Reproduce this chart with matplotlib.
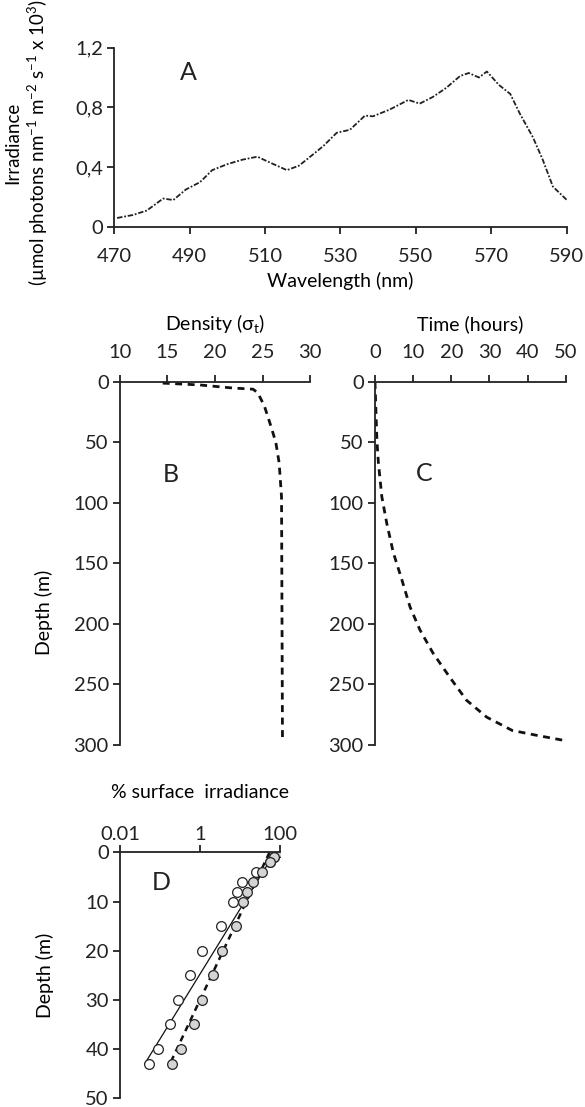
import numpy as np
import matplotlib
matplotlib.use("Agg")
import matplotlib.pyplot as plt
from matplotlib.ticker import FixedLocator, NullLocator

plt.rcParams['font.family'] = ['Lato', 'DejaVu Sans']
plt.rcParams['mathtext.fontset'] = 'custom'
plt.rcParams['mathtext.rm'] = 'Lato'
plt.rcParams['mathtext.it'] = 'Lato:italic'
plt.rcParams['text.color'] = '#222'

# --- A: irradiance spectrum
wavelength = [470.8, 475, 478.7, 483, 485.7, 489, 492.8, 496, 500, 504, 508, 510.5,
              515.8, 519, 521, 525.4, 529, 532.5, 536.5, 538.6, 543, 548, 551, 554.5,
              558, 561.7, 564, 566.7, 568.8, 572, 575, 577.5, 581, 583.6, 586.3, 590]
irradiance = [0.06, 0.08, 0.11, 0.19, 0.18, 0.25, 0.30, 0.38, 0.42, 0.45, 0.47, 0.44,
              0.38, 0.41, 0.45, 0.54, 0.63, 0.65, 0.745, 0.74, 0.785, 0.85, 0.825, 0.87,
              0.93, 1.01, 1.03, 1.00, 1.04, 0.95, 0.89, 0.76, 0.60, 0.45, 0.27, 0.18]

# --- B: density profile
density = [14.5, 18.4, 21.8, 24.0, 24.5, 25.2, 25.9, 26.4, 26.75, 27.0, 27.1]
density_depth = [1, 2.5, 5, 6, 9, 20, 37, 50, 67, 95, 296]

# --- C: time vs depth
time_h = [0, 0.5, 0.9, 1.8, 3.1, 4.8, 7.0, 9.2, 11.8, 15.2, 19.6, 24.0, 29.3, 36.0, 42.4, 49.2]
time_depth = [0, 48, 67, 95, 117, 141, 163, 186, 205, 224, 244, 263, 277, 288, 292, 296]

# --- D: % surface irradiance
open_depth = [0, 1, 2, 4, 6, 8, 10, 15, 20, 25, 30, 35, 40, 43]
open_irr = [100, 70, 55, 25, 11, 8.5, 6.5, 3.3, 1.1, 0.56, 0.28, 0.18, 0.09, 0.053]
grey_depth = [0, 1, 2, 4, 6, 8, 10, 15, 20, 25, 30, 35, 40, 43]
grey_irr = [100, 70, 56, 35, 21, 15, 12, 8, 3.5, 2.1, 1.1, 0.7, 0.33, 0.2]
open_fit = (74, 0.174)   # I0, Kd
grey_fit = (54, 0.133)
fit_depth = [0, 43]

TICK = 14.5
LAB = 14

fig = plt.figure(figsize=(5.85, 11.07), dpi=100)

def style(ax, top=False, xpad=3):
    for s in ['top', 'right', 'bottom', 'left']:
        ax.spines[s].set_visible(False)
    ax.spines['left'].set_visible(True)
    ax.spines['top' if top else 'bottom'].set_visible(True)
    for s in ['left', 'top', 'bottom']:
        ax.spines[s].set_linewidth(1.3)
        ax.spines[s].set_color('#222')
    ax.tick_params(direction='out', length=5, width=1.3, labelsize=TICK,
                   colors='#222', pad=3)
    ax.tick_params(axis='x', pad=xpad)
    if top:
        ax.xaxis.tick_top()
        ax.xaxis.set_label_position('top')

# A
axA = fig.add_axes([0.195, 0.795, 0.774, 0.162])
style(axA, xpad=10)
axA.plot(wavelength, irradiance, color='#222', lw=1.3, ls=(0, (3, 1, 1, 1)))
axA.set_xlim(470, 590)
axA.set_ylim(0, 1.2)
axA.set_xticks(range(470, 591, 20))
axA.set_yticks([0, 0.4, 0.8, 1.2])
axA.set_yticklabels(['0', '0,4', '0,8', '1,2'])
axA.set_xlabel('Wavelength (nm)', fontsize=LAB, labelpad=5)
axA.set_ylabel('Irradiance\n(µmol photons nm$^{-1}$ m$^{-2}$ s$^{-1}$ x 10$^{3}$)',
               fontsize=13.5, linespacing=1.25)
axA.yaxis.set_label_coords(-0.141, 0.47)
axA.text(0.163, 0.86, 'A', transform=axA.transAxes, fontsize=18, ha='center', va='center')

# B
axB = fig.add_axes([0.205, 0.327, 0.325, 0.328])
style(axB, top=True, xpad=10)
axB.plot(density, density_depth, color='#111', lw=2, ls=(0, (2.5, 2)))
axB.set_xlim(10, 30)
axB.set_ylim(300, 0)
axB.set_xticks(range(10, 31, 5))
axB.set_yticks(range(0, 301, 50))
axB.set_xlabel('Density (σ$_{\\mathrm{t}}$)', fontsize=LAB, labelpad=10)
axB.set_ylabel('Depth (m)', fontsize=LAB)
axB.yaxis.set_label_coords(-0.35, 0.366)
axB.text(0.27, 0.744, 'B', transform=axB.transAxes, fontsize=18, ha='center', va='center')

# C
axC = fig.add_axes([0.641, 0.327, 0.326, 0.328])
style(axC, top=True, xpad=10)
axC.plot(time_h, time_depth, color='#111', lw=2, ls=(0, (2.5, 2)))
axC.set_xlim(0, 50)
axC.set_ylim(300, 0)
axC.set_xticks(range(0, 51, 10))
axC.set_yticks(range(0, 301, 50))
axC.set_xlabel('Time (hours)', fontsize=LAB, labelpad=10)
axC.text(0.257, 0.749, 'C', transform=axC.transAxes, fontsize=18, ha='center', va='center')

# D
axD = fig.add_axes([0.205, 0.008, 0.274, 0.222])
style(axD, top=True, xpad=2)
axD.set_xscale('log')
z = np.array(fit_depth, dtype=float)
axD.plot(open_fit[0] * np.exp(-open_fit[1] * z), z, color='#111', lw=0.9)
axD.plot(grey_fit[0] * np.exp(-grey_fit[1] * z), z, color='#111', lw=1.8, ls=(0, (2.5, 2)))
axD.plot(open_irr, open_depth, 'o', ms=7, mfc='white', mec='#222', mew=0.9)
axD.plot(grey_irr, grey_depth, 'o', ms=7, mfc='#d4d4d4', mec='#222', mew=0.9)
axD.set_xlim(0.01, 100)
axD.set_ylim(50, 0)
axD.xaxis.set_major_locator(FixedLocator([0.01, 1, 100]))
axD.xaxis.set_minor_locator(NullLocator())
axD.set_xticklabels(['0.01', '1', '100'])
axD.set_yticks(range(0, 51, 10))
axD.set_xlabel('% surface  irradiance', fontsize=LAB, labelpad=20)
axD.set_ylabel('Depth (m)', fontsize=LAB)
axD.yaxis.set_label_coords(-0.41, 0.5)
axD.text(0.26, 0.878, 'D', transform=axD.transAxes, fontsize=18, ha='center', va='center')

fig.savefig('out.png', dpi=100)
